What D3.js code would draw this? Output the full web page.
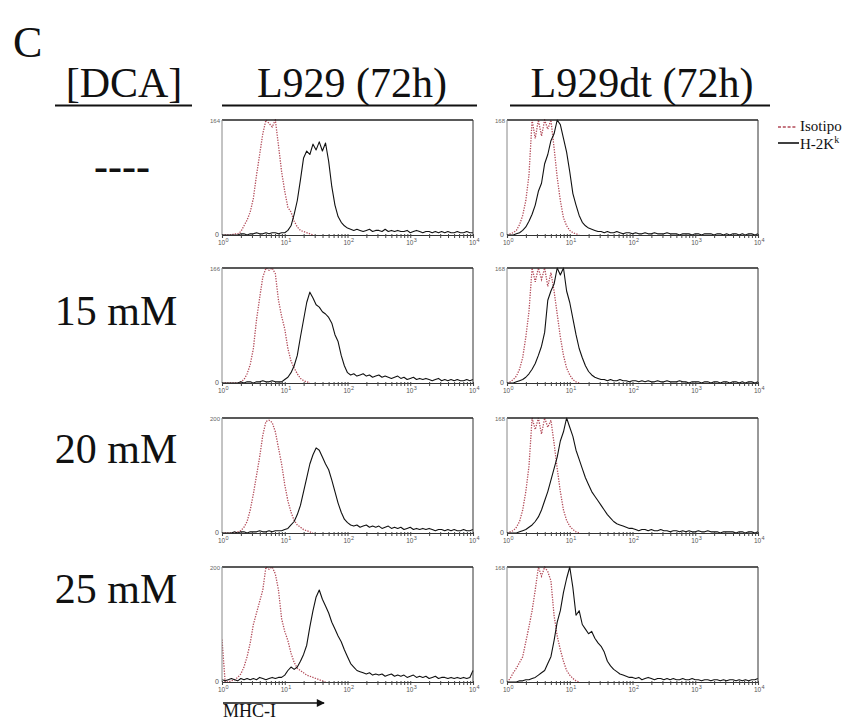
<!DOCTYPE html>
<html>
<head>
<meta charset="utf-8">
<script src="https://cdn.jsdelivr.net/npm/d3@7"></script>
<style>
  body { margin: 0; background: #fff; }
  svg { display: block; }
</style>
</head>
<body>
<svg id="fig" width="860" height="722"></svg>
<script>
// ---- Flow-cytometry histograms: MHC-I (H-2Kk) surface staining ----
// Channel grid: bin i sits at 10^(i * channelStep) on the fluorescence axis.
const channelStep = 0.05;

const panelLetter = "C";
const rowHeader = "[DCA]";
const cellLines = ["L929 (72h)", "L929dt (72h)"];
const conditions = ["----", "15 mM", "20 mM", "25 mM"];
const yMaxLabels = [[164, 168], [166, 168], [200, 168], [200, 168]];
const xTickExponents = [0, 1, 2, 3, 4];
const legendLabels = ["Isotipo", "H-2K"];
const axisTitle = "MHC-I";

// Event counts per bin, as % of each histogram's axis maximum.
// L929, untreated
const isoL929_ctrl = [0,0,0,0,1,1,3,8,13,20,32,52,70,88,100,97,94,100,78,55,38,24,20,12,7,4,3,2,1,0];
const h2kL929_ctrl = [0,0,0,0,0,0,1,1,0,1,1,2,1,1,2,1,2,2,1,2,
  2,4,8,18,30,48,67,73,70,79,74,81,73,80,64,42,26,16,11,8,6,
  5,4,5,4,3,4,5,3,4,4,3,5,3,4,3,4,3,3,4,2,3,4,3,2,3,3,2,3,2,3,2,3,2,2,3,2,2,3,2,2];
// L929dt, untreated
const isoL929dt_ctrl = [0,1,2,4,9,17,30,52,100,84,100,86,100,92,100,76,50,30,15,8,4,2,1,0];
const h2kL929dt_ctrl = [0,0,0,
  1,2,4,7,12,18,26,38,45,62,70,82,88,100,96,84,72,55,36,26,17,11,8,6,5,4,3,
  3,2,3,2,2,3,2,1,2,2,1,2,1,1,2,1,1,2,1,1,1,2,1,1,1,0,1,1,1,0,1,1,0,1,1,1,0,1,1,0,1,0,1,1,0,1,0,1,1,0,1];
// L929, 15 mM DCA
const isoL929_15 = [0,0,0,0,0,0,1,3,8,16,30,55,74,92,100,98,100,95,72,58,47,30,19,13,8,4,2,1,0];
const h2kL929_15 = [0,0,0,0,0,0,1,0,1,1,0,1,1,2,1,1,2,1,
  1,1,3,5,9,15,24,40,55,70,79,74,68,66,62,60,57,52,42,36,24,15,9,
  7,8,6,7,8,6,7,5,6,7,5,6,5,4,5,6,4,5,3,4,5,3,4,3,4,3,2,3,4,2,3,2,3,2,3,2,2,3,2,3];
// L929dt, 15 mM DCA
const isoL929dt_15 = [0,1,3,6,12,22,40,62,100,88,100,90,100,84,96,80,60,40,24,13,7,3,1,0];
const h2kL929dt_15 = [0,0,0,
  1,2,3,5,8,12,17,24,32,44,72,80,86,100,94,100,80,70,56,42,30,22,15,10,7,5,4,3,
  3,2,3,2,2,3,2,2,1,2,2,1,2,1,2,1,1,2,1,1,2,1,1,1,2,1,1,0,1,1,1,0,1,1,0,1,1,0,1,1,0,1,1,0,1,0,1,1,0,1];
// L929, 20 mM DCA
const isoL929_20 = [0,0,0,0,0,1,2,5,10,20,34,50,66,85,97,98,96,88,74,60,42,28,18,11,7,5,3,2,1,0];
const h2kL929_20 = [0,0,0,0,1,0,1,1,0,1,1,1,2,1,1,2,1,2,2,2,
  3,4,7,10,16,24,36,48,60,68,74,72,66,60,55,46,36,26,18,12,9,
  7,6,7,5,6,7,5,6,5,6,4,5,6,4,5,4,5,3,4,5,3,4,3,4,3,4,3,2,3,3,2,3,2,3,2,2,3,2,2,3];
// L929dt, 20 mM DCA
const isoL929dt_20 = [0,1,2,5,10,20,36,58,100,90,100,86,100,92,98,78,56,36,20,11,6,3,1,0];
const h2kL929dt_20 = [0,0,0,0,
  1,2,3,5,7,10,14,20,28,36,46,56,66,80,88,100,92,84,72,64,56,48,42,36,32,28,24,20,16,13,10,8,7,6,5,4,4,
  3,2,3,3,2,3,2,2,3,2,2,1,2,2,1,2,1,2,1,1,2,1,1,2,1,1,1,0,1,1,1,1,0,1,1,0,1,1,0,1];
// L929, 25 mM DCA
const isoL929_25 = [37,0,0,1,2,4,7,13,22,34,50,60,70,80,100,98,100,94,80,55,44,36,25,17,12,10,8,6,5,4,3,2,1,0];
const h2kL929_25 = [2,1,2,3,2,1,3,2,3,2,3,2,4,3,2,3,4,3,4,
  4,6,10,13,11,13,18,24,32,48,62,74,80,72,66,60,52,46,40,35,28,22,16,13,10,9,8,
  7,8,6,7,6,7,5,6,7,5,6,5,6,4,5,6,4,5,4,5,3,4,5,3,4,4,3,4,3,4,3,4,3,4,10];
// L929dt, 25 mM DCA
const isoL929dt_25 = [0,3,8,12,17,22,35,48,62,80,100,92,100,96,88,58,40,28,18,10,6,3,1,0];
const h2kL929dt_25 = [0,0,0,0,
  1,1,2,2,3,4,6,8,10,16,22,36,52,62,78,90,100,82,58,62,50,46,42,44,38,34,31,26,18,14,11,9,7,6,5,4,4,
  3,4,2,3,4,3,2,3,3,2,3,2,3,2,2,3,2,2,3,2,2,1,2,2,1,2,2,1,2,1,2,2,1,2,1,2,1,2,2,3];

const isotypeSeries = [
  [isoL929_ctrl, isoL929dt_ctrl],
  [isoL929_15, isoL929dt_15],
  [isoL929_20, isoL929dt_20],
  [isoL929_25, isoL929dt_25]
];
const h2kSeries = [
  [h2kL929_ctrl, h2kL929dt_ctrl],
  [h2kL929_15, h2kL929dt_15],
  [h2kL929_20, h2kL929dt_20],
  [h2kL929_25, h2kL929dt_25]
];

// ---- layout ----
const serif = "'Liberation Serif', 'Times New Roman', serif";
const sans = "'Liberation Sans', Arial, sans-serif";
const isoColor = "#b24a58";
const colLeft = [222, 507];
const panelW = 251;
const rowTop = [120, 268, 418, 567];
const panelH = 115;

const svg = d3.select("#fig");
svg.append("rect").attr("width", 860).attr("height", 722).attr("fill", "#fff");

// panel letter and column headers
svg.append("text").attr("x", 13).attr("y", 57)
  .attr("font-family", serif).attr("font-size", 44).attr("fill", "#111")
  .text(panelLetter);

const headers = [
  { text: rowHeader, cx: 124, x0: 55, x1: 192 },
  { text: cellLines[0], cx: 352, x0: 222, x1: 477 },
  { text: cellLines[1], cx: 642, x0: 510, x1: 770 }
];
headers.forEach(h => {
  svg.append("text").attr("x", h.cx).attr("y", 97)
    .attr("text-anchor", "middle")
    .attr("font-family", serif).attr("font-size", 42).attr("fill", "#111")
    .text(h.text);
  svg.append("line").attr("x1", h.x0).attr("x2", h.x1)
    .attr("y1", 105.5).attr("y2", 105.5)
    .attr("stroke", "#111").attr("stroke-width", 2);
});

// condition labels
const condBaseline = [180, 325, 463, 603];
conditions.forEach((c, r) => {
  svg.append("text").attr("x", c === "----" ? 122 : 116).attr("y", condBaseline[r])
    .attr("text-anchor", "middle")
    .attr("font-family", serif).attr("font-size", 42).attr("fill", "#111")
    .attr("font-weight", c === "----" ? "bold" : "normal")
    .text(c);
});

// histograms
const line = (xs, ys) => d3.line()
  .x((d, i) => xs(Math.pow(10, i * channelStep)))
  .y(d => ys(d));

const minorTicks = [];
for (let e = 0; e < 4; e++) for (let m = 2; m <= 9; m++) minorTicks.push(m * Math.pow(10, e));

for (let r = 0; r < 4; r++) {
  for (let c = 0; c < 2; c++) {
    const x0 = colLeft[c], y0 = rowTop[r];
    const g = svg.append("g");
    const xs = d3.scaleLog().domain([1, 1e4]).range([x0, x0 + panelW]);
    const ys = d3.scaleLinear().domain([0, 100]).range([y0 + panelH, y0]);

    const clipId = `clip-${r}-${c}`;
    g.append("clipPath").attr("id", clipId)
      .append("rect").attr("x", x0).attr("y", y0 - 1)
      .attr("width", panelW + 1).attr("height", panelH + 2);

    const plot = g.append("g").attr("clip-path", `url(#${clipId})`);
    plot.append("path")
      .attr("d", line(xs, ys)(isotypeSeries[r][c]))
      .attr("fill", "none").attr("stroke", isoColor)
      .attr("stroke-width", 1.3).attr("stroke-dasharray", "1.3,1.3");
    plot.append("path")
      .attr("d", line(xs, ys)(h2kSeries[r][c]))
      .attr("fill", "none").attr("stroke", "#111")
      .attr("stroke-width", 1.1).attr("stroke-linejoin", "round");

    // frame: top and right borders, grey y axis
    g.append("line").attr("x1", x0).attr("x2", x0 + panelW)
      .attr("y1", y0).attr("y2", y0).attr("stroke", "#222").attr("stroke-width", 1.6);
    g.append("line").attr("x1", x0 + panelW).attr("x2", x0 + panelW)
      .attr("y1", y0).attr("y2", y0 + panelH).attr("stroke", "#333").attr("stroke-width", 1);
    g.append("line").attr("x1", x0).attr("x2", x0)
      .attr("y1", y0).attr("y2", y0 + panelH).attr("stroke", "#888").attr("stroke-width", 1);

    // x axis: log decades with minor ticks
    const xAxis = d3.axisBottom(xs)
      .tickValues(xTickExponents.map(e => Math.pow(10, e)).concat(minorTicks))
      .tickSize(3).tickFormat("");
    const ax = g.append("g").attr("transform", `translate(0,${y0 + panelH})`).call(xAxis);
    ax.select(".domain").attr("stroke", "#333").attr("stroke-width", 1.1);
    ax.selectAll(".tick line").attr("stroke", "#444").attr("y1", -1);
    ax.selectAll(".tick text").remove();

    // decade labels: "10" with a raised exponent
    xTickExponents.forEach(e => {
      const tx = xs(Math.pow(10, e));
      const t = g.append("text").attr("x", tx - 4).attr("y", y0 + panelH + 10)
        .attr("font-family", sans).attr("font-size", 6.5).attr("fill", "#555");
      t.append("tspan").text("10");
      t.append("tspan").attr("dx", 0.3).attr("dy", -3.5).attr("font-size", 5.5).text(e);
    });

    // y labels
    g.append("text").attr("x", x0 - 3).attr("y", y0 + panelH + 2)
      .attr("text-anchor", "end").attr("font-family", sans)
      .attr("font-size", 7).attr("fill", "#555").text("0");
    g.append("text").attr("x", x0 - 2).attr("y", y0 + 3)
      .attr("text-anchor", "end").attr("font-family", sans)
      .attr("font-size", 6).attr("fill", "#666").text(yMaxLabels[r][c]);
  }
}

// legend
const lg = svg.append("g");
lg.append("line").attr("x1", 778).attr("x2", 797).attr("y1", 127).attr("y2", 127)
  .attr("stroke", isoColor).attr("stroke-width", 1.3).attr("stroke-dasharray", "3,1.8");
lg.append("text").attr("x", 800).attr("y", 131)
  .attr("font-family", serif).attr("font-size", 15).attr("fill", "#111").text(legendLabels[0]);
lg.append("line").attr("x1", 778).attr("x2", 799).attr("y1", 143).attr("y2", 143)
  .attr("stroke", "#111").attr("stroke-width", 1.6);
const t2 = lg.append("text").attr("x", 800).attr("y", 149)
  .attr("font-family", serif).attr("font-size", 15).attr("fill", "#111");
t2.append("tspan").text(legendLabels[1]);
t2.append("tspan").attr("dy", -6).attr("font-size", 10).text("k");

// fluorescence axis arrow and title
svg.append("defs").append("marker").attr("id", "arrow")
  .attr("viewBox", "0 0 10 10").attr("refX", 9).attr("refY", 5)
  .attr("markerWidth", 7).attr("markerHeight", 5).attr("orient", "auto")
  .append("path").attr("d", "M0,0L10,5L0,10Z").attr("fill", "#111");
svg.append("line").attr("x1", 223).attr("x2", 324).attr("y1", 703).attr("y2", 703)
  .attr("stroke", "#111").attr("stroke-width", 1.6).attr("marker-end", "url(#arrow)");
svg.append("text").attr("x", 223).attr("y", 717)
  .attr("font-family", serif).attr("font-size", 18).attr("fill", "#111").text(axisTitle);
</script>
</body>
</html>
